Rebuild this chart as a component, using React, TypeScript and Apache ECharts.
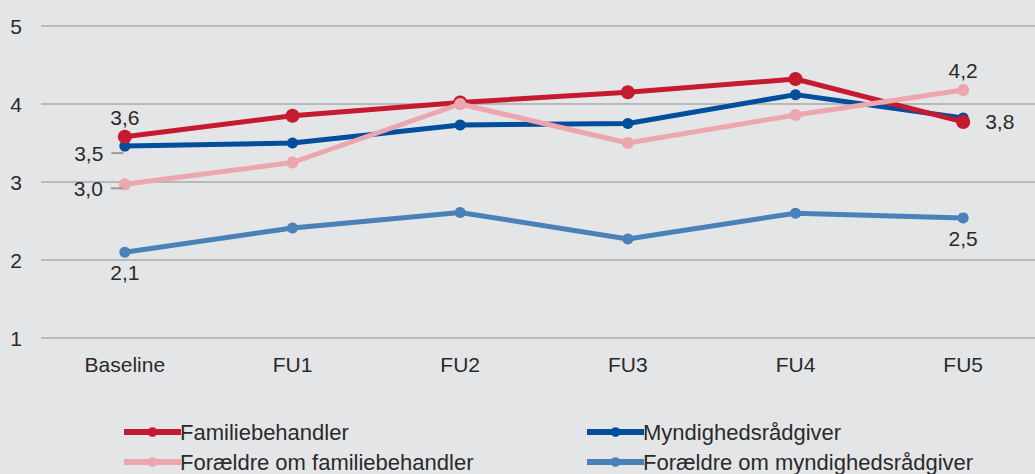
import React, { useEffect, useRef } from "react";
import * as echarts from "echarts";

const categories = ["Baseline", "FU1", "FU2", "FU3", "FU4", "FU5"];
const familiebehandler = [3.58, 3.85, 4.02, 4.15, 4.32, 3.77];
const myndighedsraadgiver = [3.46, 3.5, 3.73, 3.75, 4.12, 3.82];
const foraeldreFamilie = [2.97, 3.25, 4.0, 3.5, 3.86, 4.18];
const foraeldreMyndighed = [2.1, 2.41, 2.61, 2.27, 2.6, 2.54];
const yTicks = [1, 2, 3, 4, 5];

const FONT = "'Liberation Sans', Arial, sans-serif";
const FS = 21;
const TXT = "#2a2a2a";

const fmt = (v: number) => v.toFixed(1).replace(".", ",");

type LabelSpec = { [idx: number]: any };

function withLabels(values: number[], labels: LabelSpec) {
  return values.map((v, i) =>
    labels[i]
      ? { value: v, label: { show: true, color: TXT, fontSize: FS, fontFamily: FONT, ...labels[i] } }
      : v
  );
}

const leftLabel = (extraDy: number) => ({
  position: "left",
  distance: -4,
  offset: [0, extraDy],
  formatter: (p: any) => `{v|${fmt(p.value)}}{g|}`,
  rich: {
    v: { fontSize: FS, color: TXT, fontFamily: FONT, padding: [0, 8, 0, 0] },
    g: { width: 12, height: 2, backgroundColor: "#9a9a9a" },
  },
});

export default function App() {
  const ref = useRef<HTMLDivElement>(null);
  useEffect(() => {
    if (!ref.current) return;
    const chart = echarts.init(ref.current, undefined, { renderer: "svg" });
    const mk = (name: string, color: string, data: any[], lw: number, sym: number, z: number) => ({
      name,
      type: "line",
      data,
      symbol: "circle",
      symbolSize: sym,
      z,
      lineStyle: { color, width: lw },
      itemStyle: { color },
      label: { show: false, formatter: (p: any) => fmt(p.value) },
      emphasis: { disabled: true },
    });
    const legendItem = (name: string, left: number, top: number) => ({
      data: [name],
      left,
      top,
      itemWidth: 57,
      itemHeight: 12,
      itemGap: 0,
      padding: 0,
      lineStyle: { width: 6 },
      textStyle: { color: TXT, fontSize: 22, fontFamily: FONT, padding: [0, 0, 0, -6] },
    });
    chart.setOption({
      animation: false,
      backgroundColor: "#e4e5e7",
      grid: { left: 41, right: 0, top: 26, bottom: 136, containLabel: false },
      xAxis: {
        type: "category",
        data: categories,
        boundaryGap: true,
        axisLine: { show: false },
        axisTick: { show: false },
        axisLabel: { color: TXT, fontSize: FS, fontFamily: FONT, margin: 16 },
      },
      yAxis: {
        type: "value",
        min: yTicks[0],
        max: yTicks[yTicks.length - 1],
        interval: 1,
        axisLine: { show: false },
        axisTick: { show: false },
        axisLabel: { color: TXT, fontSize: FS, fontFamily: FONT, margin: 19 },
        splitLine: { lineStyle: { color: "#a9a9a9", width: 1.5 } },
      },
      legend: [
        legendItem("Familiebehandler", 121, 421),
        legendItem("Myndighedsrådgiver", 584, 421),
        legendItem("Forældre om familiebehandler", 121, 451),
        legendItem("Forældre om myndighedsrådgiver", 584, 451),
      ],
      series: [
        mk(
          "Forældre om myndighedsrådgiver",
          "#4a81b9",
          withLabels(foraeldreMyndighed, {
            0: { position: "bottom", distance: 4 },
            5: { position: "bottom", distance: 5 },
          }),
          5,
          11,
          1
        ),
        mk(
          "Myndighedsrådgiver",
          "#004e9c",
          withLabels(myndighedsraadgiver, { 0: leftLabel(7) }),
          5,
          11,
          2
        ),
        mk(
          "Familiebehandler",
          "#c51a30",
          withLabels(familiebehandler, {
            0: { position: "top", distance: 2 },
            5: { position: "right", distance: 15 },
          }),
          5,
          14,
          3
        ),
        mk(
          "Forældre om familiebehandler",
          "#eba6ae",
          withLabels(foraeldreFamilie, {
            0: leftLabel(4),
            5: { position: "top", distance: 3 },
          }),
          5,
          12,
          4
        ),
      ],
    });
    return () => chart.dispose();
  }, []);
  return (
    <div style={{ position: "fixed", left: 0, top: 0, width: 1035, height: 474, overflow: "hidden" }}>
      <div ref={ref} style={{ width: 1047, height: 474 }} />
    </div>
  );
}
